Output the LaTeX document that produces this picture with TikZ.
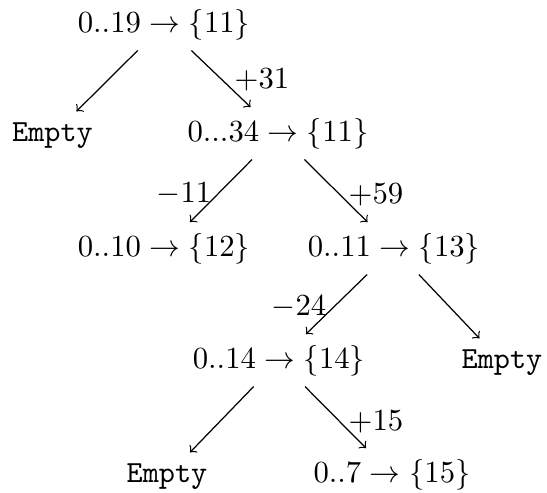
\documentclass[tikz,border=0pt]{standalone}
\begin{document}
\begin{tikzpicture}[x=0.3257pt,y=-0.3257pt,
  lbl/.style={anchor=base,inner sep=0pt},
  val/.style={anchor=base},
  conn/.style={->}]
\useasboundingbox (0,0) rectangle (547,492);
% nodes
\node[val] (root) at (164,32)  {$0..19 \to \{11\}$};
\node[val] (e1)   at (52.5,141) {\texttt{Empty}};
\node[val] (n34)  at (278,141) {$0...34 \to \{11\}$};
\node[val] (n10)  at (164,256) {$0..10 \to \{12\}$};
\node[val] (n11)  at (394,256) {$0..11 \to \{13\}$};
\node[val] (n14)  at (279,368) {$0..14 \to \{14\}$};
\node[val] (e2)   at (502,368) {\texttt{Empty}};
\node[val] (e3)   at (167,482) {\texttt{Empty}};
\node[val] (n7)   at (392,482) {$0..7 \to \{15\}$};
% connectors
\draw[conn] (root) -- (e1);
\draw[conn] (root) -- (n34);
\draw[conn] (n34) -- (n10);
\draw[conn] (n34) -- (n11);
\draw[conn] (n11) -- (n14);
\draw[conn] (n11) -- (e2);
\draw[conn] (n14) -- (e3);
\draw[conn] (n14) -- (n7);
% labels
\node[lbl] (l31) at (262,88)  {$+31$};
\node[lbl] (l11) at (184,202) {$-11$};
\node[lbl] (l59) at (376,203) {$+59$};
\node[lbl] (l24) at (299,315) {$-24$};
\node[lbl] (l15) at (376,430) {$+15$};
\end{tikzpicture}
\end{document}
